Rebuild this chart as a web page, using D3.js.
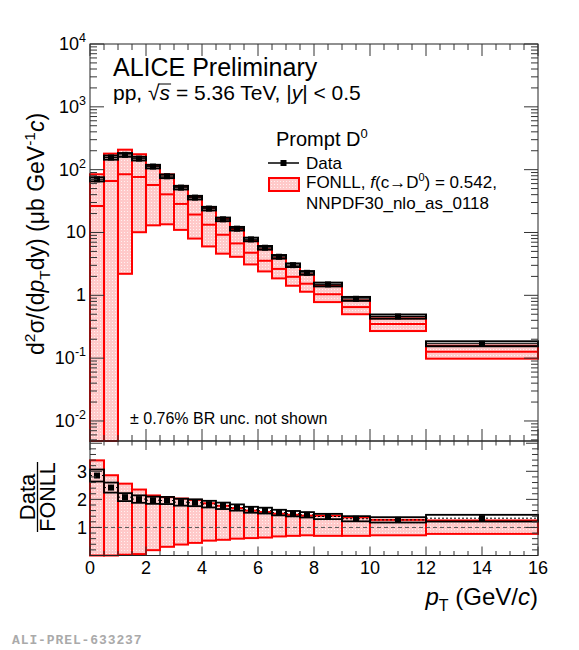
<!DOCTYPE html>
<html>
<head>
<meta charset="utf-8">
<script src="https://cdn.jsdelivr.net/npm/d3@7"></script>
<style>
  body { margin: 0; background: #fff; }
  text { font-family: "Liberation Sans", Arial, Helvetica, sans-serif; fill: #000; }
</style>
</head>
<body>
<svg id="chart" width="579" height="650"></svg>
<script>
// pT bins (GeV/c)
const binLo = [0, 0.5, 1, 1.5, 2, 2.5, 3, 3.5, 4, 4.5, 5, 5.5, 6, 6.5, 7, 7.5, 8, 9, 10, 12];
const binHi = [0.5, 1, 1.5, 2, 2.5, 3, 3.5, 4, 4.5, 5, 5.5, 6, 6.5, 7, 7.5, 8, 9, 10, 12, 16];

// measured cross section (ub GeV^-1 c) and relative syst. unc.
const dataVal = [70.3, 156, 172, 150, 112, 78.5, 51.8, 35.9, 24, 16.2, 11.5, 7.76, 5.72, 4.11, 3.02, 2.28, 1.49, 0.88, 0.46, 0.17];
const dataSys = [0.075, 0.074, 0.068, 0.066, 0.065, 0.065, 0.065, 0.065, 0.065, 0.065, 0.065, 0.065, 0.065, 0.065, 0.065, 0.066, 0.068, 0.07, 0.075, 0.09];

// FONLL prediction: central, upper, lower
const fonllC  = [26.4, 66, 84.5, 76.5, 57, 40.5, 28.5, 19.3, 13.3, 9.2, 6.7, 4.76, 3.55, 2.63, 1.97, 1.53, 1.04, 0.65, 0.35, 0.126];
const fonllHi = [84.5, 180, 208, 176, 118, 84, 55, 37, 25, 16.8, 11.4, 7.3, 5.4, 3.9, 2.85, 2.15, 1.42, 0.83, 0.43, 0.158];
const fonllLo = [0, 0, 2.2, 10.1, 13, 13.5, 11, 8, 6, 4.6, 4.1, 3.1, 2.4, 1.86, 1.42, 1.14, 0.78, 0.5, 0.27, 0.098];

// Data / FONLL panel
const ratioVal = [2.85, 2.42, 2.08, 2.01, 1.97, 1.96, 1.90, 1.88, 1.83, 1.77, 1.71, 1.63, 1.60, 1.53, 1.49, 1.45, 1.39, 1.31, 1.27, 1.33];
const ratioHi  = [3.39, 2.86, 2.56, 2.35, 2.14, 2.08, 2.03, 1.98, 1.86, 1.77, 1.69, 1.60, 1.55, 1.49, 1.45, 1.42, 1.42, 1.36, 1.27, 1.25];
const ratioLo  = [0, 0, 0.03, 0.05, 0.19, 0.31, 0.39, 0.45, 0.53, 0.56, 0.6, 0.62, 0.64, 0.68, 0.70, 0.72, 0.70, 0.70, 0.72, 0.77];

const xTicks = [0, 2, 4, 6, 8, 10, 12, 14, 16];
const yExp = [-2, -1, 0, 1, 2, 3, 4];
const rTicks = [1, 2, 3];

const svg = d3.select('#chart');

// pattern for the FONLL boxes
const defs = svg.append('defs');
const pat = defs.append('pattern')
  .attr('id', 'dots').attr('patternUnits', 'userSpaceOnUse')
  .attr('width', 3).attr('height', 3);
pat.append('rect').attr('width', 3).attr('height', 3).attr('fill', '#ffc9c9');
pat.append('rect').attr('x', 1).attr('y', 1).attr('width', 1).attr('height', 1).attr('fill', '#fff1f1');

const left = 90, right = 538, top1 = 44, bot1 = 441, bot2 = 555.5;

const x = d3.scaleLinear().domain([0, 16]).range([left, right]);
const yMin = 0.0048;
const y = d3.scaleLog().domain([yMin, 1e4]).range([bot1, top1]);
const yr = d3.scaleLinear().domain([0, 4.08]).range([bot2, bot1]);

const bins = binLo.map((lo, i) => ({
  lo: lo, hi: binHi[i], v: dataVal[i], s: dataSys[i],
  c: fonllC[i], fh: fonllHi[i], fl: fonllLo[i],
  r: ratioVal[i], rh: ratioHi[i], rl: ratioLo[i]
}));

const yc = v => y(Math.max(v, yMin));

// ---------- top panel ----------
const gTop = svg.append('g');

gTop.selectAll('.fbox').data(bins).enter().append('rect')
  .attr('x', d => x(d.lo)).attr('width', d => x(d.hi) - x(d.lo))
  .attr('y', d => yc(d.fh)).attr('height', d => yc(d.fl) - yc(d.fh))
  .attr('fill', 'url(#dots)').attr('stroke', '#ff0000').attr('stroke-width', 2);

gTop.selectAll('.fc').data(bins).enter().append('line')
  .attr('x1', d => x(d.lo)).attr('x2', d => x(d.hi))
  .attr('y1', d => y(d.c)).attr('y2', d => y(d.c))
  .attr('stroke', '#ff0000').attr('stroke-width', 2);

gTop.selectAll('.dbox').data(bins).enter().append('rect')
  .attr('x', d => x(d.lo)).attr('width', d => x(d.hi) - x(d.lo))
  .attr('y', d => y(d.v * (1 + d.s))).attr('height', d => y(d.v * (1 - d.s)) - y(d.v * (1 + d.s)))
  .attr('fill', 'none').attr('stroke', '#000').attr('stroke-width', 2);

gTop.selectAll('.dl').data(bins).enter().append('line')
  .attr('x1', d => x(d.lo)).attr('x2', d => x(d.hi))
  .attr('y1', d => y(d.v)).attr('y2', d => y(d.v))
  .attr('stroke', '#000').attr('stroke-width', 1);

gTop.selectAll('.dm').data(bins).enter().append('rect')
  .attr('x', d => x((d.lo + d.hi) / 2) - 3).attr('y', d => y(d.v) - 3)
  .attr('width', 6).attr('height', 6).attr('fill', '#000');

// ---------- ratio panel ----------
const gBot = svg.append('g');

gBot.selectAll('.rbox').data(bins).enter().append('rect')
  .attr('x', d => x(d.lo)).attr('width', d => x(d.hi) - x(d.lo))
  .attr('y', d => yr(d.rh)).attr('height', d => yr(d.rl) - yr(d.rh))
  .attr('fill', 'url(#dots)').attr('stroke', '#ff0000').attr('stroke-width', 2);

gBot.append('line')
  .attr('x1', x(0)).attr('x2', x(16)).attr('y1', yr(1)).attr('y2', yr(1))
  .attr('stroke', '#555').attr('stroke-width', 1).attr('stroke-dasharray', '4,3');

gBot.selectAll('.rdbox').data(bins).enter().append('rect')
  .attr('x', d => x(d.lo)).attr('width', d => x(d.hi) - x(d.lo))
  .attr('y', d => yr(d.r * (1 + d.s))).attr('height', d => yr(d.r * (1 - d.s)) - yr(d.r * (1 + d.s)))
  .attr('fill', 'none').attr('stroke', '#000').attr('stroke-width', 1.8);

gBot.selectAll('.rdl').data(bins).enter().append('line')
  .attr('x1', d => x(d.lo)).attr('x2', d => x(d.hi))
  .attr('y1', d => yr(d.r)).attr('y2', d => yr(d.r))
  .attr('stroke', '#000').attr('stroke-width', 1).attr('stroke-dasharray', '2,2');

gBot.selectAll('.rm').data(bins).enter().append('rect')
  .attr('x', d => x((d.lo + d.hi) / 2) - 3).attr('y', d => yr(d.r) - 3)
  .attr('width', 6).attr('height', 6).attr('fill', '#000');

// ---------- frames and ticks ----------
const axes = svg.append('g').attr('stroke', '#333').attr('stroke-width', 1);

function frame(t, b) {
  axes.append('rect').attr('x', left).attr('y', t).attr('width', right - left).attr('height', b - t)
    .attr('fill', 'none').attr('stroke', '#222');
}
frame(top1, bot1);
frame(bot1, bot2);

function vTicks(vals, scale, len) {
  vals.forEach(v => {
    const p = scale(v);
    axes.append('line').attr('x1', left).attr('x2', left + len).attr('y1', p).attr('y2', p);
    axes.append('line').attr('x1', right).attr('x2', right - len).attr('y1', p).attr('y2', p);
  });
}
function hTicks(vals, t, b, len) {
  vals.forEach(v => {
    const p = x(v);
    axes.append('line').attr('x1', p).attr('x2', p).attr('y1', b).attr('y2', b - len);
    axes.append('line').attr('x1', p).attr('x2', p).attr('y1', t).attr('y2', t + len);
  });
}

// top panel y (log)
vTicks(yExp.map(e => Math.pow(10, e)), y, 14);
const yMinor = [];
for (let e = -3; e < 4; e++) {
  for (let k = 2; k <= 9; k++) {
    const v = k * Math.pow(10, e);
    if (v > yMin && v < 1e4) yMinor.push(v);
  }
}
vTicks(yMinor, y, 7);

// x ticks
const xMinor = d3.range(0, 16.01, 0.5).filter(v => v % 2 !== 0);
hTicks(xTicks, top1, bot1, 12);
hTicks(xMinor, top1, bot1, 6);
hTicks(xTicks, bot1, bot2, 9);
hTicks(xMinor, bot1, bot2, 4.5);

// ratio y
vTicks([1, 2, 3, 4], yr, 12);
vTicks(d3.range(0.2, 4.08, 0.2).filter(v => Math.abs(v - Math.round(v)) > 0.01), yr, 6);

// ---------- labels ----------
const fs = 18;
yExp.forEach(e => {
  const t = svg.append('text').attr('x', 86).attr('y', y(Math.pow(10, e)) + 6)
    .attr('text-anchor', 'end').attr('font-size', fs);
  if (e === 0) t.text('1');
  else if (e === 1) t.text('10');
  else {
    t.append('tspan').text('10');
    t.append('tspan').attr('dy', -8).attr('font-size', 12.5).text(e);
  }
});

rTicks.forEach(v => {
  svg.append('text').attr('x', 87).attr('y', yr(v) + 6.5)
    .attr('text-anchor', 'end').attr('font-size', fs).text(v);
});

xTicks.forEach(v => {
  svg.append('text').attr('x', x(v)).attr('y', 574)
    .attr('text-anchor', 'middle').attr('font-size', fs).text(v);
});

// y title (top)
const yt = svg.append('text').attr('transform', 'translate(44,355) rotate(-90)')
  .attr('text-anchor', 'start').attr('font-size', 23);
yt.append('tspan').text('d');
yt.append('tspan').attr('dy', -9).attr('font-size', 15.5).text('2');
yt.append('tspan').attr('dy', 9).text('σ/(d');
yt.append('tspan').attr('font-style', 'italic').text('p');
yt.append('tspan').attr('dy', 6).attr('font-size', 15.5).text('T');
yt.append('tspan').attr('dy', -6).text('dy) (μb GeV');
yt.append('tspan').attr('dy', -9).attr('font-size', 15.5).text('-1');
yt.append('tspan').attr('dy', 9).attr('font-style', 'italic').text('c');
yt.append('tspan').text(')');

// y title (ratio): Data / FONLL
const rt = svg.append('g').attr('transform', 'translate(37,497) rotate(-90)');
rt.append('text').attr('x', 0).attr('y', -2).attr('text-anchor', 'middle').attr('font-size', 22).text('Data');
rt.append('line').attr('x1', -35).attr('x2', 35).attr('y1', 0.5).attr('y2', 0.5).attr('stroke', '#000').attr('stroke-width', 1.3);
rt.append('text').attr('x', 0).attr('y', 18).attr('text-anchor', 'middle').attr('font-size', 21.5).text('FONLL');

// x title
const xt = svg.append('text').attr('x', 538).attr('y', 605).attr('text-anchor', 'end').attr('font-size', 24);
xt.append('tspan').attr('font-style', 'italic').text('p');
xt.append('tspan').attr('dy', 6).attr('font-size', 16).text('T');
xt.append('tspan').attr('dy', -6).text(' (GeV/');
xt.append('tspan').attr('font-style', 'italic').text('c');
xt.append('tspan').text(')');

// header
svg.append('text').attr('x', 113).attr('y', 76).attr('font-size', 25).text('ALICE Preliminary');
const hd = svg.append('text').attr('x', 113).attr('y', 100).attr('font-size', 21);
hd.append('tspan').text('pp, √');
hd.append('tspan').attr('font-style', 'italic').text('s');
hd.append('tspan').text(' = 5.36 TeV, |');
hd.append('tspan').attr('font-style', 'italic').text('y');
hd.append('tspan').text('| < 0.5');
// overline on the sqrt
const ext = hd.node().getExtentOfChar(5);
const rext = hd.node().getExtentOfChar(4);
svg.append('line').attr('x1', rext.x + rext.width - 1).attr('x2', ext.x + ext.width + 1)
  .attr('y1', rext.y + 3).attr('y2', rext.y + 3).attr('stroke', '#000').attr('stroke-width', 1);

// legend
const lg = svg.append('g');
const pd = lg.append('text').attr('x', 276).attr('y', 146).attr('font-size', 20);
pd.append('tspan').text('Prompt D');
pd.append('tspan').attr('dy', -8).attr('font-size', 13).text('0');

lg.append('line').attr('x1', 268).attr('x2', 299).attr('y1', 163).attr('y2', 163).attr('stroke', '#000').attr('stroke-width', 1.5);
lg.append('rect').attr('x', 280.5).attr('y', 160).attr('width', 6).attr('height', 6).attr('fill', '#000');
lg.append('text').attr('x', 306).attr('y', 168.5).attr('font-size', 17).text('Data');

lg.append('rect').attr('x', 269).attr('y', 178).attr('width', 30).attr('height', 13)
  .attr('fill', 'url(#dots)').attr('stroke', '#ff0000').attr('stroke-width', 2);
const fl = lg.append('text').attr('x', 306).attr('y', 188).attr('font-size', 17);
fl.append('tspan').text('FONLL, ');
fl.append('tspan').attr('font-style', 'italic').text('f');
fl.append('tspan').text('(c→D');
fl.append('tspan').attr('dy', -7).attr('font-size', 11).text('0');
fl.append('tspan').attr('dy', 7).text(') = 0.542,');
lg.append('text').attr('x', 306).attr('y', 209).attr('font-size', 17).text('NNPDF30_nlo_as_0118');

svg.append('text').attr('x', 130).attr('y', 424).attr('font-size', 16).text('± 0.76% BR unc. not shown');

svg.append('text').attr('x', 12).attr('y', 644).attr('font-size', 13)
  .style('font-family', '"Liberation Mono", "DejaVu Sans Mono", monospace')
  .style('letter-spacing', '0.9px')
  .attr('font-weight', 'bold').style('fill', '#aaa').text('ALI-PREL-633237');
</script>
</body>
</html>
